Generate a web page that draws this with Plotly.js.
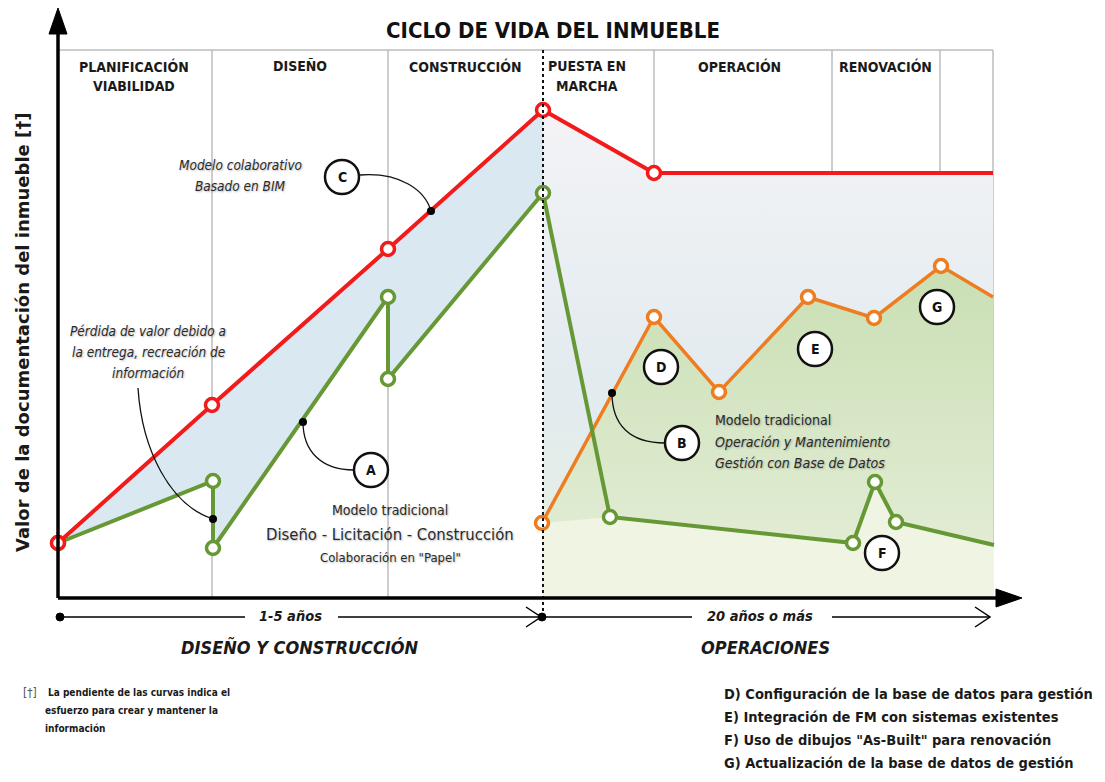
<!DOCTYPE html>
<html>
<head>
<meta charset="utf-8">
<script src="https://cdn.plot.ly/plotly-3.0.1.min.js"></script>
<style>html,body{margin:0;padding:0;background:#fff;}#chart{width:1105px;height:782px;}</style>
</head>
<body>
<div id="chart"></div>
<script>
// ---- Data (arbitrary value units: 1 unit of time / value) ----
const redX    = [0, 15.4, 33.0, 48.5, 59.6, 93.5];          // Modelo colaborativo BIM (C)
const redY    = [5.5, 19.3, 34.9, 48.8, 42.5, 42.5];
const greenX  = [0, 15.5, 15.5, 33.0, 33.0, 48.5, 55.2, 79.5, 81.7, 83.8, 93.6]; // Modelo tradicional (A, F)
const greenY  = [5.5, 11.7, 5.0, 30.1, 21.9, 40.5, 8.1, 5.5, 11.6, 7.6, 5.3];
const orangeX = [48.4, 59.6, 66.1, 75.0, 81.6, 88.3, 93.5];  // Gestión con base de datos (B, D, E, G)
const orangeY = [7.5, 28.1, 20.6, 30.1, 28.0, 33.2, 30.1];
const calloutX = [15.5, 24.5, 55.4, 37.3];                    // anchor dots: pérdida, A, B, C
const calloutY = [7.9, 17.6, 20.5, 38.7];
const phaseEdges = [15.4, 33.0, 59.6, 77.4, 88.2, 93.5];
const handoverX = 48.5;
const phaseLabels = [
  ['PLANIFICACIÓN', 'VIABILIDAD'], ['DISEÑO'], ['CONSTRUCCIÓN'],
  ['PUESTA EN', 'MARCHA'], ['OPERACIÓN'], ['RENOVACIÓN']
];
const footnotes = [
  'D) Configuración de la base de datos para gestión',
  'E) Integración de FM con sistemas existentes',
  'F) Uso de dibujos "As-Built" para renovación',
  'G) Actualización de la base de datos de gestión'
];

// ---- layout helpers (pixel placement for decorations) ----
const X = px => (px - 58) / 10;
const Y = py => (598 - py) / 10;

const RED = '#f21a1a', GREEN = '#679836', ORANGE = '#ee7d22';
const FONT = '"DejaVu Sans Condensed", "Liberation Sans Narrow", "DejaVu Sans", sans-serif';
const FONTW = '"DejaVu Sans", "Liberation Sans", sans-serif';
const SHADOW = '1px 1px 2px rgba(0,0,0,0.28)';

const n = a => a.length;
const skip = {hoverinfo: 'skip', showlegend: false};

// fills
const designPoly = {
  x: redX.slice(0, 4).concat(greenX.slice(0, 6).reverse()),
  y: redY.slice(0, 4).concat(greenY.slice(0, 6).reverse()),
  type: 'scatter', mode: 'none', fill: 'toself', fillcolor: '#d9e8f1', ...skip
};
const opsPoly = {
  x: redX.slice(3).concat([redX[n(redX)-1], redX[3]]),
  y: redY.slice(3).concat([0, 0]),
  type: 'scatter', mode: 'none', fill: 'toself',
  fillgradient: {type: 'vertical', start: 0, stop: 48,
    colorscale: [[0, '#e8f0e2'], [0.45, '#e2ebef'], [1, '#f3f3f6']]}, ...skip
};
const orangePoly = {
  x: orangeX.concat([orangeX[n(orangeX)-1], orangeX[0]]),
  y: orangeY.concat([0, 0]),
  type: 'scatter', mode: 'none', fill: 'toself',
  fillgradient: {type: 'vertical', start: 0, stop: 33,
    colorscale: [[0, '#e6efda'], [1, '#cadfb4']]}, ...skip
};
const greenPoly = {
  x: greenX.slice(6).concat([greenX[n(greenX)-1], orangeX[0], orangeX[0]]),
  y: greenY.slice(6).concat([0, 0, orangeY[0]]),
  type: 'scatter', mode: 'none', fill: 'toself', fillcolor: '#eff4e3', ...skip
};

function lineTrace(x, y, color, w) {
  const last = x.length - 1;
  return [
    {x, y, type: 'scatter', mode: 'lines', line: {color, width: w}, ...skip},
    {x: x.slice(0, last), y: y.slice(0, last), type: 'scatter', mode: 'markers',
     marker: {size: 13, color: '#ffffff', opacity: 1, line: {color, width: 3.5}},
     cliponaxis: false, ...skip}
  ];
}
const dots = {x: calloutX, y: calloutY, type: 'scatter', mode: 'markers',
  marker: {size: 8, color: '#000'}, ...skip};

const data = [designPoly, opsPoly, orangePoly, greenPoly,
  ...lineTrace(orangeX, orangeY, ORANGE, 3.5),
  ...lineTrace(greenX, greenY, GREEN, 4),
  ...lineTrace(redX, redY, RED, 4),
  dots];

// ---- shapes ----
const shapes = [];
const gray = {color: '#bdbdbd', width: 1.5};
phaseEdges.forEach(e => shapes.push({type: 'line', x0: e, x1: e, y0: 0, y1: Y(50), line: gray, layer: 'below'}));
shapes.push({type: 'line', x0: 0, x1: phaseEdges[phaseEdges.length-1], y0: Y(50), y1: Y(50), line: gray, layer: 'below'});
shapes.push({type: 'line', x0: handoverX, x1: handoverX, y0: Y(617), y1: Y(48), line: {color: '#111', width: 2, dash: 'dot'}});
// axes
shapes.push({type: 'line', x0: 0, x1: 0, y0: 0, y1: Y(30), line: {color: '#000', width: 3.5}});
shapes.push({type: 'path', path: `M${X(49)},${Y(34)} L${X(58)},${Y(8)} L${X(67)},${Y(34)} Z`, fillcolor: '#000', line: {color: '#000', width: 1}});
shapes.push({type: 'line', x0: 0, x1: X(1000), y0: 0, y1: 0, line: {color: '#000', width: 3.5}});
shapes.push({type: 'path', path: `M${X(996)},${Y(589)} L${X(1022)},${Y(598)} L${X(996)},${Y(607)} Z`, fillcolor: '#000', line: {color: '#000', width: 1}});
// timeline
const tl = {color: '#000', width: 1.5};
[[60, 245], [338, 540], [545, 692], [832, 990]].forEach(s =>
  shapes.push({type: 'line', x0: X(s[0]), x1: X(s[1]), y0: Y(617), y1: Y(617), line: tl}));
shapes.push({type: 'path', path: `M${X(526)},${Y(607)} L${X(541)},${Y(617)} L${X(526)},${Y(627)}`, line: tl});
shapes.push({type: 'path', path: `M${X(975)},${Y(607)} L${X(990)},${Y(617)} L${X(975)},${Y(627)}`, line: tl});
[60, 542].forEach(p => shapes.push({type: 'circle', x0: X(p-4), x1: X(p+4), y0: Y(621), y1: Y(613), fillcolor: '#000', line: {color: '#000', width: 1}}));
// connector curves
const cc = {color: '#111', width: 1.3};
shapes.push({type: 'path', path: `M${X(360)},${Y(175)} C${X(400)},${Y(172)} ${X(425)},${Y(190)} ${X(431)},${Y(211)}`, line: cc});
shapes.push({type: 'path', path: `M${X(354)},${Y(470)} C${X(320)},${Y(470)} ${X(303)},${Y(450)} ${X(303)},${Y(422)}`, line: cc});
shapes.push({type: 'path', path: `M${X(665)},${Y(443)} C${X(630)},${Y(443)} ${X(612)},${Y(425)} ${X(612)},${Y(393)}`, line: cc});
shapes.push({type: 'path', path: `M${X(138)},${Y(388)} C${X(142)},${Y(450)} ${X(170)},${Y(505)} ${X(213)},${Y(519)}`, line: cc});
// letter circles
const letters = [['A', 371, 470], ['B', 682, 443], ['C', 342, 177], ['D', 661, 367], ['E', 815, 349], ['F', 882, 553], ['G', 937, 307]];
letters.forEach(l => shapes.push({type: 'circle', x0: X(l[1]-17), x1: X(l[1]+17), y0: Y(l[2]+17), y1: Y(l[2]-17),
  fillcolor: '#fff', line: {color: '#111', width: 2.5}}));

// ---- annotations ----
const ann = [];
function txt(text, px, py, size, opts = {}) {
  ann.push(Object.assign({
    text, x: X(px), y: Y(py), xref: 'x', yref: 'y', showarrow: false,
    xanchor: 'center', yanchor: 'middle',
    font: Object.assign({family: FONT, size, color: '#1a1a1a'}, opts.font || {})
  }, opts.a || {}));
}
const phaseCenters = [134, 300, 465, 587, 739, 885];
phaseLabels.forEach((lab, i) => lab.forEach((t, j) =>
  txt(t, phaseCenters[i], 66 + 20 * j, 14, {font: {weight: 'bold'}})));
letters.forEach(l => txt(l[0], l[1], l[2], 14, {font: {weight: 'bold', color: '#111'}}));

const sh = {shadow: SHADOW, color: '#2a2a2a'};
const shi = Object.assign({style: 'italic'}, sh);
txt('Modelo colaborativo', 240, 165, 13.5, {font: shi});
txt('Basado en BIM', 240, 186, 13.5, {font: shi});
txt('Pérdida de valor debido a', 148, 331, 13.5, {font: shi});
txt('la entrega, recreación de', 148, 352, 13.5, {font: shi});
txt('información', 148, 373, 13.5, {font: shi});
txt('Modelo tradicional', 390, 510, 14, {font: sh});
txt('Diseño - Licitación - Construcción', 390, 534, 16.5, {font: sh});
txt('Colaboración en "Papel"', 390, 557, 13, {font: sh});
txt('Modelo tradicional', 713, 420, 14, {font: sh, a: {xanchor: 'left'}});
txt('Operación y Mantenimiento', 713, 442, 14, {font: shi, a: {xanchor: 'left'}});
txt('Gestión con Base de Datos', 713, 463, 14, {font: shi, a: {xanchor: 'left'}});

txt('1-5 años', 290, 616, 14.5, {font: {weight: 'bold', style: 'italic'}});
txt('20 años o más', 760, 616, 14.5, {font: {weight: 'bold', style: 'italic'}});
txt('DISEÑO Y CONSTRUCCIÓN', 300, 647, 18, {font: {weight: 'bold', style: 'italic'}});
txt('OPERACIONES', 765, 647, 18, {font: {weight: 'bold', style: 'italic'}});

txt('Valor de la documentación del inmueble [†]', 22, 332, 18, {font: {family: FONTW, weight: 'bold'}, a: {textangle: -90}});

txt('[†]', 30, 693, 12, {font: {color: '#555'}});
txt('La pendiente de las curvas indica el', 46, 692, 10, {font: {weight: 'bold'}, a: {xanchor: 'left'}});
txt('esfuerzo para crear y mantener la', 43, 710, 10, {font: {weight: 'bold'}, a: {xanchor: 'left'}});
txt('información', 43, 728, 10, {font: {weight: 'bold'}, a: {xanchor: 'left'}});

const fnY = [694, 717, 740, 763];
footnotes.forEach((t, i) => txt(t, 722, fnY[i], 14.5, {font: {weight: 'bold'}, a: {xanchor: 'left'}}));

const layout = {
  width: 1105, height: 782,
  margin: {l: 0, r: 0, t: 0, b: 0},
  paper_bgcolor: '#fff', plot_bgcolor: '#fff',
  title: {text: 'CICLO DE VIDA DEL INMUEBLE', x: 553 / 1105, y: 1 - 30 / 782,
          xanchor: 'center', yanchor: 'middle', font: {family: FONT, size: 22, weight: 'bold', color: '#111'}},
  xaxis: {range: [X(0), X(1105)], visible: false, fixedrange: true},
  yaxis: {range: [Y(782), Y(0)], visible: false, fixedrange: true},
  shapes, annotations: ann, showlegend: false, hovermode: false
};
Plotly.newPlot('chart', data, layout, {displayModeBar: false, staticPlot: true});
</script>
</body>
</html>
